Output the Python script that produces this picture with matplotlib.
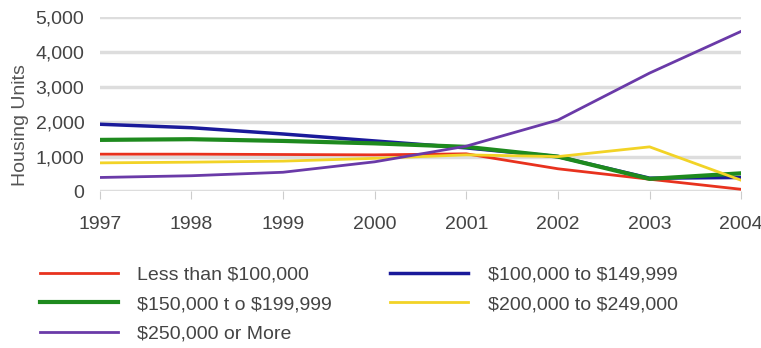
import matplotlib
matplotlib.use("Agg")
import matplotlib.pyplot as plt
from matplotlib.ticker import FuncFormatter

plt.rcParams["text.parse_math"] = False
plt.rcParams["font.family"] = ["Liberation Sans", "DejaVu Sans"]

years = [1997, 1998, 1999, 2000, 2001, 2002, 2003, 2004]

less_100k = [1070, 1070, 1060, 1050, 1080, 650, 350, 60]
k100_149 = [1930, 1830, 1650, 1450, 1250, 1000, 380, 400]
k150_199 = [1480, 1500, 1450, 1380, 1280, 1000, 360, 520]
k200_249 = [820, 840, 870, 950, 1050, 1000, 1280, 320]
k250_more = [400, 450, 550, 850, 1300, 2050, 3400, 4600]

labels = ["Less than $100,000", "$100,000 to $149,999",
          "$150,000 t o $199,999", "$200,000 to $249,000",
          "$250,000 or More"]

fig = plt.figure(figsize=(7.61, 3.48), dpi=100)
ax = fig.add_axes([0.131, 0.45, 0.843, 0.50])

ax.plot(years, less_100k, color="#e8321e", lw=2, label=labels[0])
ax.plot(years, k100_149, color="#1a1a9a", lw=2.5, label=labels[1])
ax.plot(years, k150_199, color="#1e8a1e", lw=3, label=labels[2])
ax.plot(years, k200_249, color="#f2d326", lw=2, label=labels[3])
ax.plot(years, k250_more, color="#6a3aa8", lw=2, label=labels[4])

ax.set_xlim(1997, 2004)
ax.set_ylim(0, 5000)
ax.set_yticks(range(0, 5001, 1000))
ax.set_xticks(years)
ax.yaxis.set_major_formatter(FuncFormatter(lambda v, p: f"{int(v):,}"))
ax.grid(axis="y", color="#dddddd", lw=2.5)
ax.set_axisbelow(True)
for s in ax.spines.values():
    s.set_visible(False)
ax.tick_params(axis="y", length=0, labelsize=14, colors="#444444", pad=11)
ax.tick_params(axis="x", length=6, color="#cccccc", labelsize=14, colors="#444444", pad=12)
ax.set_ylabel("Housing Units", fontsize=14, color="#555555")
ax.yaxis.set_label_coords(-0.11, 0.38)

handles, lbls = ax.get_legend_handles_labels()
order = [0, 2, 4, 1, 3]
fig.legend([handles[i] for i in order], [lbls[i] for i in order],
           loc="upper left", bbox_to_anchor=(0.0526, 0.236), ncol=2,
           frameon=False, fontsize=14, handlelength=4.0, handletextpad=1.0,
           columnspacing=3.0, labelspacing=0.62, labelcolor="#444444",
           borderaxespad=0, borderpad=0)

fig.savefig("out.png", dpi=100)
